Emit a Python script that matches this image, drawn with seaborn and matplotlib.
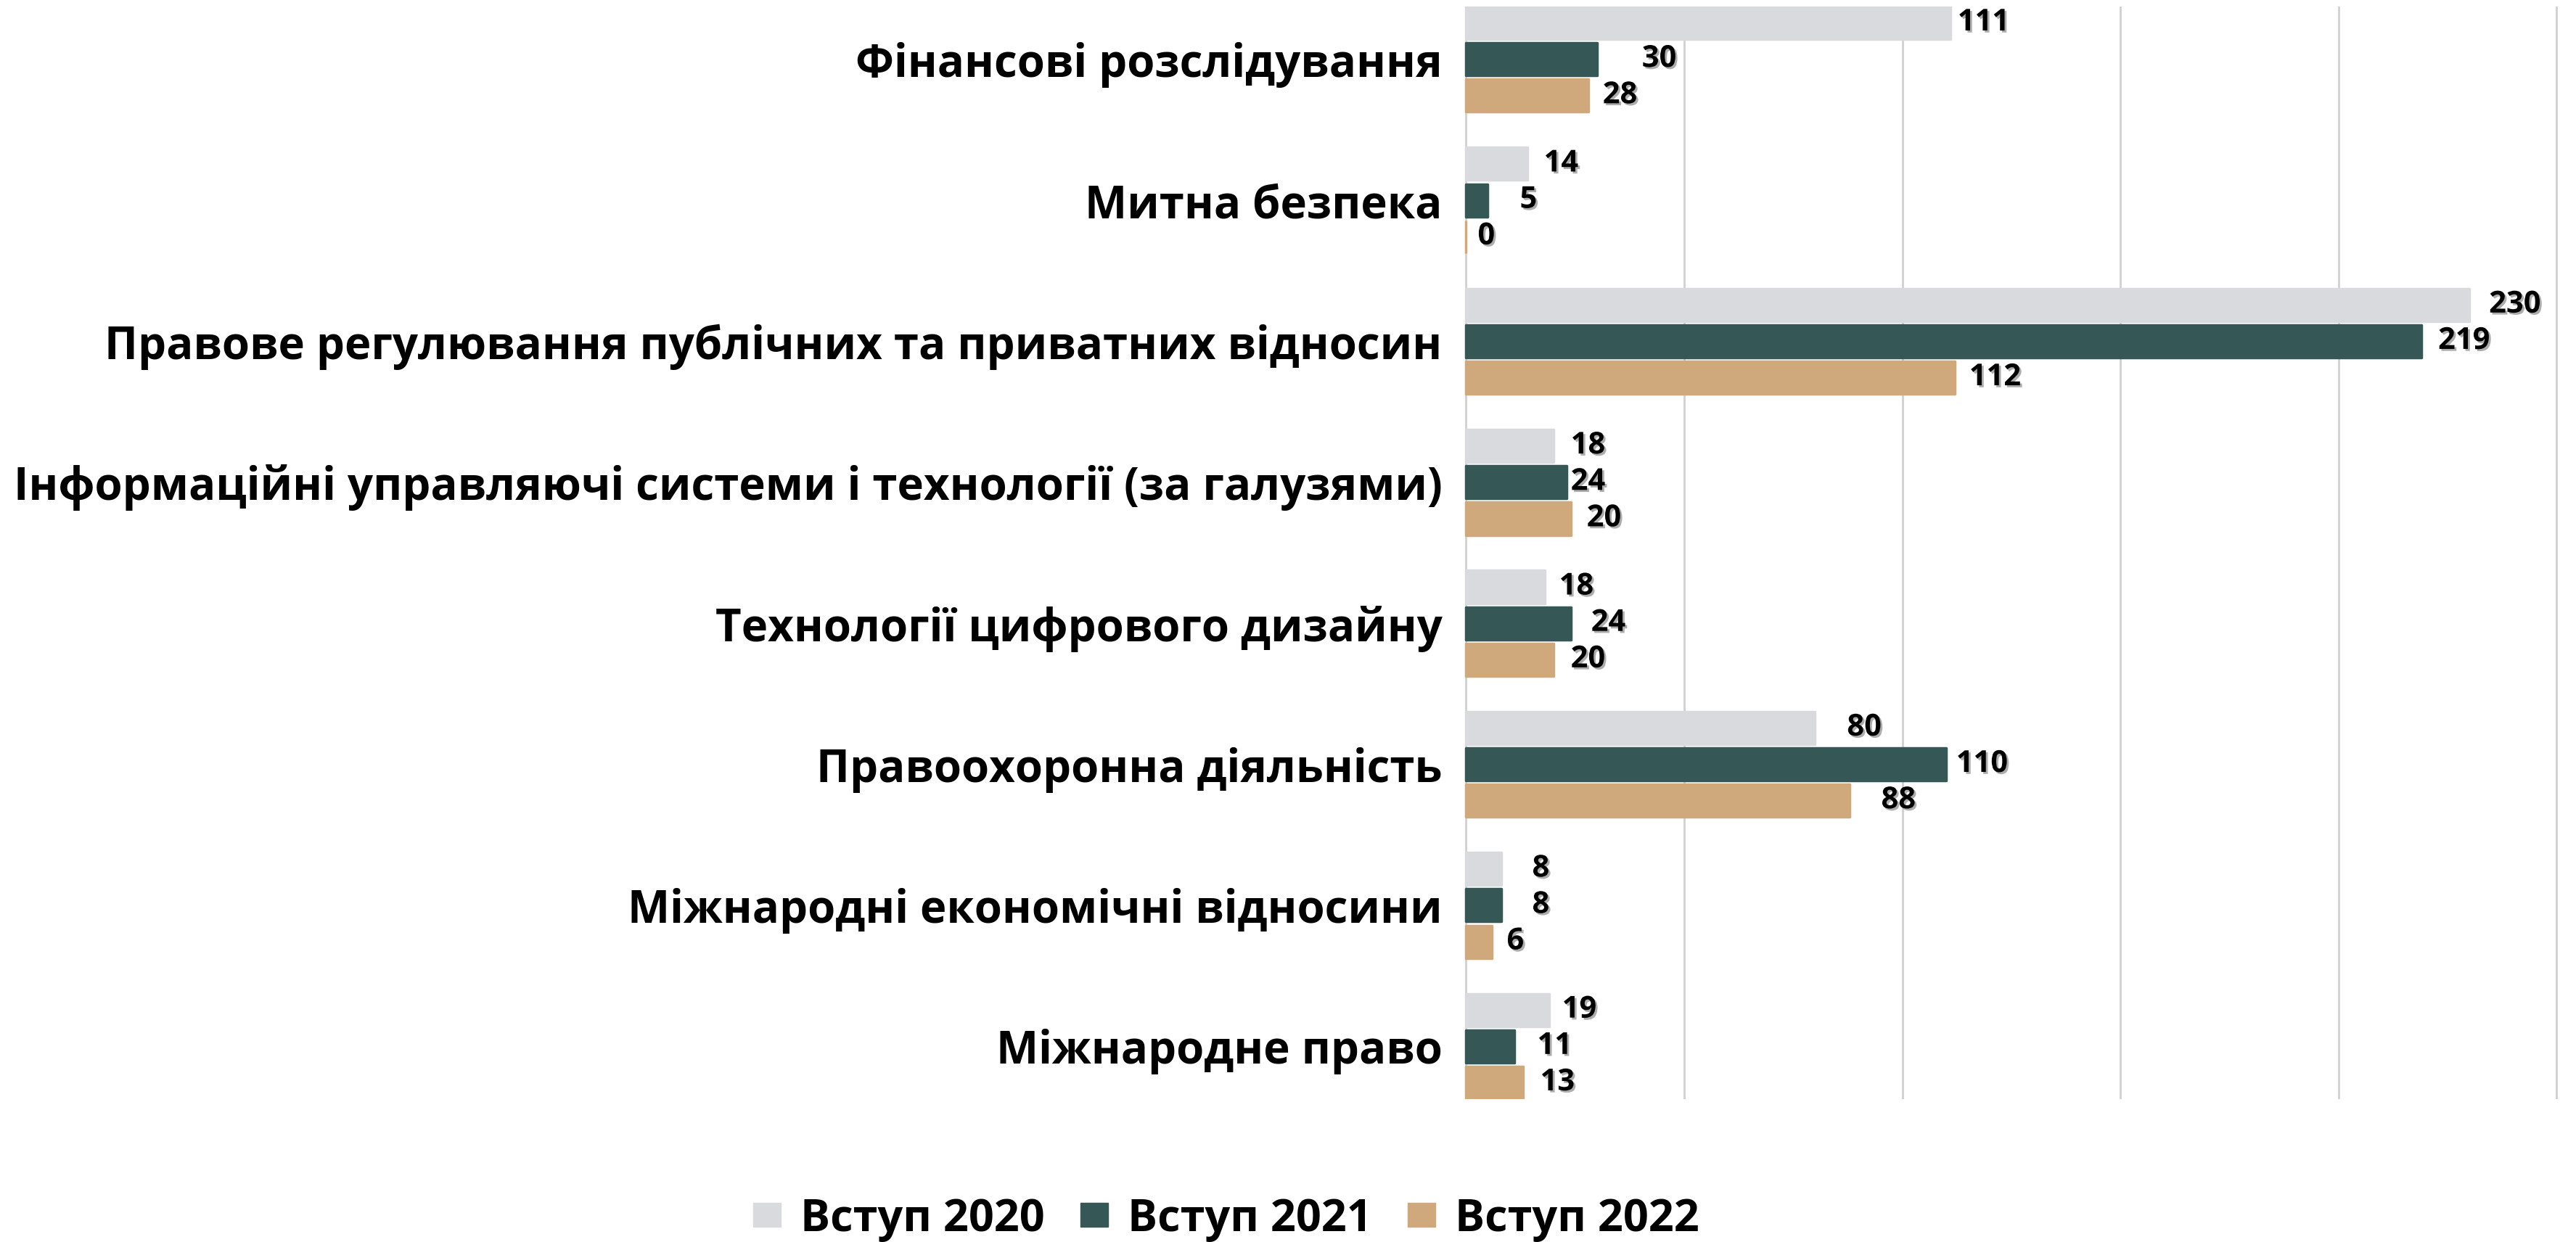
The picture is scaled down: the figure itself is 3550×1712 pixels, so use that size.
import pandas as pd
import seaborn as sns
import matplotlib
import matplotlib.pyplot as plt
import matplotlib.patheffects as pe

matplotlib.use('Agg')

# Daten
categories = [
    'Фінансові розслідування',
    'Митна безпека',
    'Правове регулювання публічних та приватних відносин',
    'Інформаційні управляючі системи і технології (за галузями)',
    'Технології цифрового дизайну',
    'Правоохоронна діяльність',
    'Міжнародні економічні відносини',
    'Міжнародне право',
]
years = ['Вступ 2020', 'Вступ 2021', 'Вступ 2022']

# bar lengths as drawn
values_2020 = [111, 14, 230, 20, 18, 80, 8, 19]
values_2021 = [30, 5, 219, 23, 24, 110, 8, 11]
values_2022 = [28, 0, 112, 24, 20, 88, 6, 13]

# label texts as printed (differ from bar lengths in one row)
labels_2020 = ['111', '14', '230', '18', '18', '80', '8', '19']
labels_2021 = ['30', '5', '219', '24', '24', '110', '8', '11']
labels_2022 = ['28', '0', '112', '20', '20', '88', '6', '13']

colors = ['#D9DADD', '#355755', '#CFA87C']

# label gap after bar end (px)
gap_2020 = [10, 23, 27, 24, 20, 44, 43, 18]
gap_2021 = [62, 44, 23, 6, 28, 14, 43, 32]
gap_2022 = [20, 16, 20, 22, 24, 43, 20, 24]

df = pd.DataFrame({
    'category': categories * 3,
    'year': [y for y in years for _ in categories],
    'value': values_2020 + values_2021 + values_2022,
})

sns.set_style('white')
plt.rcParams['font.family'] = ['Open Sans', 'DejaVu Sans']
plt.rcParams['text.color'] = 'black'
plt.rcParams['ytick.color'] = 'black'

W, H, DPI = 3550, 1712, 100
fig = plt.figure(figsize=(W / DPI, H / DPI), dpi=DPI)
ax = fig.add_axes([2018 / W, 1 - 1515 / H, (3527 - 2018) / W, (1515 - 9) / H])

sns.barplot(data=df, y='category', x='value', hue='year', palette=colors,
            orient='h', width=0.774, gap=0.1, ax=ax, legend=True,
            saturation=1, edgecolor='none')

# leicht abgerundete Ecken
for cont, col in zip(ax.containers, colors):
    for bar in cont:
        bar.set_edgecolor(col)
        bar.set_linewidth(2.5)
        bar.set_joinstyle('round')

ax.set_xlim(-0.4, 250.6)
ax.set_ylim(7.374, -0.374)
ax.set_axisbelow(True)
ax.grid(axis='x', color='#D0D0D0', linewidth=2)
ax.grid(axis='y', visible=False)
ax.set_xticks([0, 50, 100, 150, 200, 250])
ax.set_xticklabels([])
for s in ax.spines.values():
    s.set_visible(False)
ax.set_xlabel('')
ax.set_ylabel('')
ax.tick_params(axis='both', length=0)
ax.tick_params(axis='y', pad=22)
for t in ax.get_yticklabels():
    t.set_fontsize(44.5)
    t.set_fontweight('bold')
    t.set_color('black')

shadow = [pe.SimplePatchShadow(offset=(2, -2), shadow_rgbFace='#777777', alpha=0.6), pe.Normal()]
all_labels = [labels_2020, labels_2021, labels_2022]
all_gaps = [gap_2020, gap_2021, gap_2022]
for cont, labs, gaps in zip(ax.containers, all_labels, all_gaps):
    for bar, lab, g in zip(cont, labs, gaps):
        y = bar.get_y() + bar.get_height() / 2
        ax.annotate(lab, (bar.get_width(), y), xytext=(g * 72 / DPI, 0),
                    textcoords='offset points', ha='left', va='center',
                    fontsize=30, fontweight='bold', color='black',
                    path_effects=shadow, annotation_clip=False)

ax.legend_.remove()
handles = [plt.Rectangle((0, 0), 1, 1, color=c) for c in colors]
fig.legend(handles, years, loc='center', bbox_to_anchor=(0.476, 0.018),
           ncol=3, frameon=False, prop={'weight': 'bold', 'size': 44},
           handlelength=0.62, handleheight=0.45, handletextpad=0.45, columnspacing=0.8)

plt.savefig('out.png', dpi=DPI)
